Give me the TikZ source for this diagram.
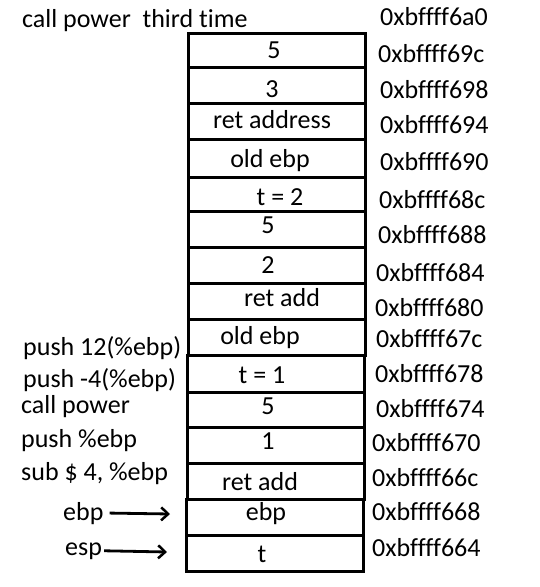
\documentclass[tikz,border=0pt]{standalone}
\usepackage{fontspec}
\setmainfont{Carlito}[Ligatures=NoCommon]
\usetikzlibrary{arrows.meta, positioning}

\begin{document}
\begin{tikzpicture}[x=1pt, y=-1pt, font=\fontsize{26}{31}\selectfont,
		cell/.style={line width=3pt},
		txt/.style={inner sep=0pt, anchor=base},
		lbl/.style={inner sep=0pt, anchor=base west},
		ptr/.style={line width=2.8pt, -{Straight Barb[length=7pt, width=13pt, line width=2.5pt]}}]
		
		\useasboundingbox (0,0) rectangle (539,587);
		
		% --- Titulo
		\node[lbl] (title) at (22,27) {call power\ \ third time};
		
		% --- Pilha (caixas)
		\draw[cell] (188,33) rectangle (365,67);
		\draw[cell] (188,67) rectangle (365,103);
		\draw[cell] (188,103) rectangle (365,139);
		\draw[cell] (188,139) rectangle (365,177);
		\draw[cell] (188,177) rectangle (365,211);
		\draw[cell] (188,211) rectangle (365,247);
		\draw[cell] (188,247) rectangle (365,283);
		\draw[cell] (188,283) rectangle (365,319);
		\draw[cell] (188,319) rectangle (365,355);
		\draw[cell] (187,355) rectangle (364,392);
		\draw[cell] (187,392) rectangle (364,427);
		\draw[cell] (187,427) rectangle (364,463);
		\draw[cell] (187,463) rectangle (364,499);
		\draw[cell] (186,499) rectangle (363,535);
		\draw[cell] (186,535) rectangle (363,571);
		
		% Conteudo das caixas
		\node[txt] (v1) at (274,58) {5};
		\node[txt] (v2) at (272,97) {3};
		\node[txt] (v3) at (272,128) {ret address};
		\node[txt] (v4) at (270,167) {old ebp};
		\node[txt] (v5) at (280,205) {t = 2};
		\node[txt] (v6) at (268,233) {5};
		\node[txt] (v7) at (268,273) {2};
		\node[txt] (v8) at (282,306) {ret add};
		\node[txt] (v9) at (260,344) {old ebp};
		\node[txt] (v10) at (262,383) {t = 1};
		\node[txt] (v11) at (268,414) {5};
		\node[txt] (v12) at (268,449) {1};
		\node[txt] (v13) at (260,490) {ret add};
		\node[txt] (v14) at (266,520) {ebp};
		\node[txt] (v15) at (262,562) {t};
		
		% --- Enderecos (a direita)
		\node[lbl] (a0) at (380,25) {0xbffff6a0};
		\node[lbl] (a1) at (378,62) {0xbffff69c};
		\node[lbl] (a2) at (380,98) {0xbffff698};
		\node[lbl] (a3) at (380,133) {0xbffff694};
		\node[lbl] (a4) at (380,170) {0xbffff690};
		\node[lbl] (a5) at (379,208) {0xbffff68c};
		\node[lbl] (a6) at (378,243) {0xbffff688};
		\node[lbl] (a7) at (376,281) {0xbffff684};
		\node[lbl] (a8) at (375,316) {0xbffff680};
		\node[lbl] (a9) at (376,347) {0xbffff67c};
		\node[lbl] (a10) at (375,382) {0xbffff678};
		\node[lbl] (a11) at (376,417) {0xbffff674};
		\node[lbl] (a12) at (372,451) {0xbffff670};
		\node[lbl] (a13) at (372,486) {0xbffff66c};
		\node[lbl] (a14) at (372,520) {0xbffff668};
		\node[lbl] (a15) at (372,556) {0xbffff664};
		
		% --- Instrucoes (a esquerda)
		\node[lbl] (i1) at (23,355) {push 12(\%ebp)};
		\node[lbl] (i2) at (23,387) {push -4(\%ebp)};
		\node[lbl] (i3) at (21,413) {call power};
		\node[lbl] (i4) at (21,447) {push \%ebp};
		\node[lbl] (i5) at (21,480) {sub \$ 4, \%ebp};
		
		% --- Registradores (as setas)
		\node[lbl] (ebp) at (63,520) {ebp};
		\node[lbl] (esp) at (65,555) {esp};
		\coordinate (ebptip) at (170,514);
		\coordinate (esptip) at (167,552);
		
		\draw[ptr] (ebp.east) ++(6,0) -- (ebptip);
		\draw[ptr] (esp.east) ++(2,0) -- (esptip);
		
	\end{tikzpicture}
\end{document}
